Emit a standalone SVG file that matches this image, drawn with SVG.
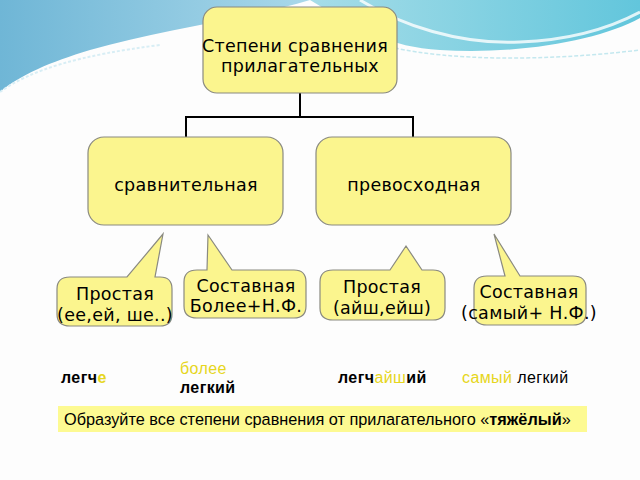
<svg xmlns="http://www.w3.org/2000/svg" width="640" height="480" viewBox="0 0 640 480">
<defs>
<linearGradient id="bgL" x1="0" y1="0" x2="1" y2="0">
<stop offset="0" stop-color="#6fb6d6"/><stop offset="1" stop-color="#a9d8ea"/>
</linearGradient>
<linearGradient id="bgR" x1="0" y1="0" x2="1" y2="0">
<stop offset="0" stop-color="#a6dde8"/><stop offset="1" stop-color="#62c6dc"/>
</linearGradient>
<style>
.box{fill:#fbf58e;stroke:#8a8a80;stroke-width:1.2}
.t{font-family:"DejaVu Sans",sans-serif;font-size:17.5px;letter-spacing:0.3px;fill:#000;text-anchor:middle}
.b{font-family:"Liberation Sans",Arial,sans-serif;font-size:16px;letter-spacing:0.4px;font-weight:bold;fill:#000}
.n{font-weight:normal}
.y{fill:#e6d620}
.con{stroke:#000;stroke-width:2;fill:none}
</style>
</defs>
<rect width="640" height="480" fill="#fdfdfd"/>
<path d="M0,0 H310 C250,18 160,30 90,50 C50,62 20,75 0,92 Z" fill="url(#bgL)"/>
<path d="M0,92 C30,70 80,55 160,45" fill="none" stroke="#d8eef5" stroke-width="2" stroke-dasharray="3 2"/>
<path d="M310,0 H640 V18 C600,40 520,55 440,50 C390,47 360,30 310,0 Z" fill="url(#bgR)"/>
<path d="M360,0 C400,25 460,45 520,42 C570,40 610,28 640,12" fill="none" stroke="#ffffff" stroke-width="3" opacity="0.8"/>
<path d="M395,48 C450,60 540,62 640,50" fill="none" stroke="#c4e8ef" stroke-width="1.5" stroke-dasharray="4 2"/>

<g id="connectors">
<path class="con" d="M300,93 V117 M186,117 H413 M186,116 V137 M413,116 V137"/>
</g>

<g id="root">
<rect class="box" x="203" y="7" width="194" height="86" rx="14"/>
<text class="t" x="295" y="52">Степени сравнения</text>
<text class="t" x="300" y="72">прилагательных</text>
</g>
<g id="comparative">
<rect class="box" x="88" y="137" width="195" height="88" rx="16"/>
<text class="t" x="186" y="191">сравнительная</text>
</g>
<g id="superlative">
<rect class="box" x="316" y="137" width="195" height="88" rx="16"/>
<text class="t" x="414" y="191">превосходная</text>
</g>

<g id="simple-comp">
<path class="box" d="M70,277 H127 L163,234 L155,277 H160 Q172,277 172,289 V314 Q172,326 160,326 H70 Q57,326 57,314 V289 Q57,277 70,277 Z"/>
<text class="t" x="115" y="300">Простая</text>
<text class="t" x="115" y="321">(ее,ей, ше..)</text>
</g>
<g id="compound-comp">
<path class="box" d="M197,270 H207 L208,235 L232,270 H294 Q306,270 306,282 V306 Q306,318 294,318 H197 Q184,318 184,306 V282 Q184,270 197,270 Z"/>
<text class="t" x="246" y="292">Составная</text>
<text class="t" x="246" y="312">Более+Н.Ф.</text>
</g>
<g id="simple-sup">
<path class="box" d="M333,270 H390 L406,246 L422,270 H433 Q445,270 445,282 V308 Q445,320 433,320 H333 Q320,320 320,308 V282 Q320,270 333,270 Z"/>
<text class="t" x="382" y="293">Простая</text>
<text class="t" x="382" y="314">(айш,ейш)</text>
</g>
<g id="compound-sup">
<path class="box" d="M487,276 H505 L494,234 L520,276 H573 Q586,276 586,288 V313 Q586,325 573,325 H487 Q474,325 474,313 V288 Q474,276 487,276 Z"/>
<text class="t" x="529" y="298">Составная</text>
<text class="t" x="529" y="319">(самый+ Н.Ф.)</text>
</g>

<g id="examples">
<text class="b" x="61" y="383">легч<tspan class="y">е</tspan></text>
<text class="b n" x="180" y="374"><tspan class="y">более</tspan></text>
<text class="b" x="180" y="393">легкий</text>
<text class="b" x="338" y="383">легч<tspan class="y n">айш</tspan>ий</text>
<text class="b n" x="462" y="383"><tspan class="y">самый</tspan> легкий</text>
</g>

<g id="task">
<rect x="58" y="406" width="529" height="26" fill="#fdfa92"/>
<text x="64" y="425" font-family="Liberation Sans, Arial, sans-serif" font-size="16.3" fill="#000">Образуйте все степени сравнения от прилагательного «<tspan font-weight="bold">тяжёлый</tspan>»</text>
</g>
</svg>
